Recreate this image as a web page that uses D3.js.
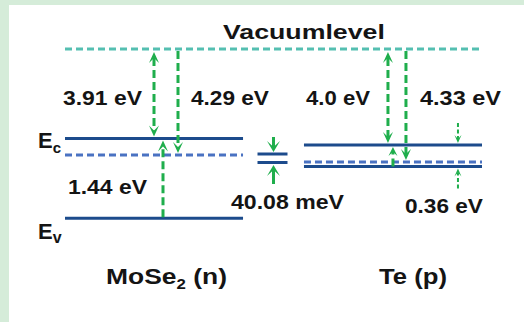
<!DOCTYPE html>
<html>
<head>
<meta charset="utf-8">
<script src="https://cdn.jsdelivr.net/npm/d3@7"></script>
<style>
    html, body { margin: 0; padding: 0; background: #d5ecd9; }
    svg { display: block; }
</style>
</head>
<body>
<div id="chart"></div>
<script>
// band alignment data (eV, measured from the vacuum level)
var materials = ["MoSe2", "Te"];
var materialTitles = [["MoSe", "2", " (n)"], ["Te (p)"]];
var electronAffinity = [3.91, 4.0];
var workFunction = [4.29, 4.33];
var bandGap = [1.44, 0.36];
var affinityLabels = ["3.91 eV", "4.0 eV"];
var workLabels = ["4.29 eV", "4.33 eV"];
var gapLabels = ["1.44 eV", "0.36 eV"];
var fermiShiftLabel = "40.08 meV";
var vacuumLabel = "Vacuumlevel";

(function () {
    "use strict";

    var width = 524, height = 322;
    var navy = "#1c4b8c", blueDash = "#4a72c2", teal = "#55bfb1", green = "#1fae4c";
    var font = "'Liberation Sans', Arial, sans-serif";

    var svg = d3.select("#chart").append("svg")
        .attr("width", width)
        .attr("height", height);

    svg.append("rect")
        .attr("x", 9).attr("y", 5)
        .attr("width", width - 9).attr("height", height - 5)
        .attr("fill", "#ffffff");

    // levels of every material
    var bands = materials.map(function (m, i) {
        return {
            name: m,
            title: materialTitles[i],
            ec: -electronAffinity[i],
            ef: -workFunction[i],
            ev: -(electronAffinity[i] + bandGap[i]),
            chiLabel: affinityLabels[i],
            phiLabel: workLabels[i],
            gapLabel: gapLabels[i]
        };
    });

    // schematic (not to scale) energy axis: piecewise linear through every level
    var levels = [0];
    bands.forEach(function (b) { levels.push(b.ec, b.ef, b.ev); });
    levels = levels.map(function (v) { return Math.round(v * 1000) / 1000; });
    levels = Array.from(new Set(levels)).sort(d3.descending);
    var y = d3.scaleLinear()
        .domain(levels)
        .range([49, 138.5, 145, 155, 162, 166.5, 218.3]);

    var x = d3.scaleBand()
        .domain(materials)
        .range([65, 482])
        .paddingInner(0.255)
        .paddingOuter(0);

    // where the arrows sit inside each band block
    var arrowPos = {
        MoSe2: { chi: 89, gap: 98, phi: 113 },
        Te: { chi: 84, gap: 89, phi: 102, side: 154 }
    };

    function headPath(px, tip, dir, w, len, notch) {
        // dir = -1 points up, +1 points down
        return "M" + px + "," + tip +
            "L" + (px - w / 2) + "," + (tip - dir * len) +
            "L" + px + "," + (tip - dir * notch) +
            "L" + (px + w / 2) + "," + (tip - dir * len) + "Z";
    }

    function arrow(g, px, y0, y1, opt) {
        // line from y0 to y1, head at y1 (and at y0 when opt.both)
        var dir = y1 > y0 ? 1 : -1;
        var w = opt.w || 10, len = opt.len || 11, notch = opt.notch || 6;
        var start = opt.both ? y0 + dir * notch : y0;
        g.append("line")
            .attr("x1", px).attr("x2", px)
            .attr("y1", start).attr("y2", y1 - dir * notch)
            .attr("stroke", green)
            .attr("stroke-width", opt.sw || 3)
            .attr("stroke-dasharray", opt.dash || null);
        g.append("path").attr("d", headPath(px, y1, dir, w, len, notch)).attr("fill", green);
        if (opt.both) {
            g.append("path").attr("d", headPath(px, y0, -dir, w, len, notch)).attr("fill", green);
        }
    }

    function label(g, txt, x0, w, baseline, size) {
        var t = g.append("text")
            .attr("y", baseline)
            .attr("font-family", font)
            .attr("font-weight", "bold")
            .attr("font-size", size || 21)
            .attr("fill", "#141414");
        if (Array.isArray(txt)) {
            t.append("tspan").text(txt[0]);
            if (txt.length > 1) {
                t.append("tspan").attr("font-size", 14).attr("dy", 5).text(txt[1]);
                t.append("tspan").attr("dy", -5).text(txt[2]);
            }
        } else {
            t.text(txt);
        }
        var bb = t.node().getBBox();
        t.attr("transform", "translate(" + x0 + ",0) scale(" + (w / bb.width) + ",1) translate(" + (-bb.x) + ",0)");
        return t;
    }

    var g = svg.append("g");

    // vacuum level
    g.append("line")
        .attr("x1", x.range()[0]).attr("x2", x.range()[1])
        .attr("y1", y(0)).attr("y2", y(0))
        .attr("stroke", teal).attr("stroke-width", 3)
        .attr("stroke-dasharray", "7,4");
    label(g, vacuumLabel, 223, 162, 39, 21);

    // band edges and Fermi levels
    bands.forEach(function (b) {
        var x0 = x(b.name), x1 = x0 + x.bandwidth();
        [b.ec, b.ev].forEach(function (e) {
            g.append("line")
                .attr("x1", x0).attr("x2", x1)
                .attr("y1", y(e)).attr("y2", y(e))
                .attr("stroke", navy).attr("stroke-width", 3);
        });
        g.append("line")
            .attr("x1", x0).attr("x2", x1)
            .attr("y1", y(b.ef)).attr("y2", y(b.ef))
            .attr("stroke", blueDash).attr("stroke-width", 3)
            .attr("stroke-dasharray", "7,4");
    });

    // MoSe2 arrows
    var m = bands[0], mx = x(m.name), mp = arrowPos.MoSe2;
    arrow(g, mx + mp.chi, y(0) + 3, y(m.ec) - 2, { both: true, dash: "8,4" });
    arrow(g, mx + mp.phi, y(0) + 2, y(m.ef) - 2, { dash: "8,4" });
    arrow(g, mx + mp.gap, y(m.ev) - 1, y(m.ec) + 2, { dash: "8,4" });
    label(g, m.chiLabel, 63, 79, 105);
    label(g, m.phiLabel, 191, 78, 105);
    label(g, m.gapLabel, 68, 79, 194);

    // Te arrows
    var t = bands[1], tx = x(t.name), tp = arrowPos.Te;
    arrow(g, tx + tp.chi, y(0) + 3, y(t.ec) - 2, { both: true, dash: "8,4" });
    arrow(g, tx + tp.phi, y(0) + 2, y(t.ef) - 2, { dash: "8,4" });
    arrow(g, tx + tp.gap, y(t.ev), y(t.ec) + 2, { dash: "8,4", w: 9, len: 9, notch: 5 });
    arrow(g, tx + tp.side, y(t.ec) - 22, y(t.ec) - 2, { dash: "4,2.5", sw: 2, w: 7, len: 8, notch: 4 });
    arrow(g, tx + tp.side, y(t.ev) + 22, y(t.ev) + 2, { dash: "4,2.5", sw: 2, w: 7, len: 8, notch: 4 });
    label(g, t.chiLabel, 306, 64, 105);
    label(g, t.phiLabel, 420, 81, 105);
    label(g, t.gapLabel, 405, 78, 213);

    // Fermi level offset between the two sides
    var cx = (x(materials[0]) + x.bandwidth() + x(materials[1])) / 2 - 1;
    [m.ef, t.ef].forEach(function (e, i) {
        g.append("line")
            .attr("x1", cx - 15).attr("x2", cx + 15)
            .attr("y1", y(e) - (i === 0 ? 1 : -0.5)).attr("y2", y(e) - (i === 0 ? 1 : -0.5))
            .attr("stroke", navy).attr("stroke-width", 3);
    });
    arrow(g, cx + 1, y(m.ef) - 18, y(m.ef) - 3, { w: 13, len: 11, notch: 5 });
    arrow(g, cx + 1, y(t.ef) + 22, y(t.ef) + 3, { w: 13, len: 11, notch: 5 });
    label(g, fermiShiftLabel, 231, 113, 209);

    // E_c / E_v markers
    var ecLab = g.append("text")
        .attr("x", 38).attr("y", y(m.ec) + 9.5)
        .attr("font-family", font).attr("font-weight", "bold")
        .attr("font-size", 22).attr("fill", "#141414");
    ecLab.append("tspan").text("E");
    ecLab.append("tspan").attr("font-size", 15).attr("dy", 5).text("c");

    var evLab = g.append("text")
        .attr("x", 38).attr("y", y(m.ev) + 20.5)
        .attr("font-family", font).attr("font-weight", "bold")
        .attr("font-size", 22).attr("fill", "#141414");
    evLab.append("tspan").text("E");
    evLab.append("tspan").attr("font-size", 16).attr("dy", 4).text("v");

    // material names
    label(g, m.title, 106, 121, 284, 22);
    label(g, t.title, 379, 68, 284, 22);
})();
</script>
</body>
</html>
